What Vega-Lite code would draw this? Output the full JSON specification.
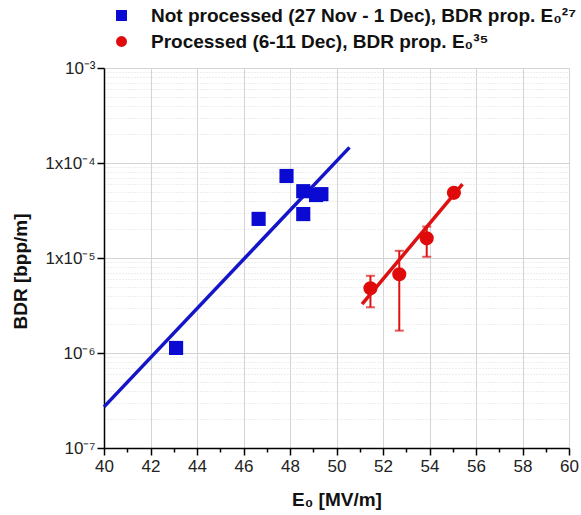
{
  "$schema": "https://vega.github.io/schema/vega-lite/v6.json",
  "width": 465,
  "height": 380,
  "autosize": {"type": "none"},
  "padding": {"left": 104, "top": 68, "right": 12, "bottom": 67},
  "background": "white",
  "config": {
    "view": {"stroke": null},
    "font": "Liberation Sans",
    "legend": {
      "orient": "none",
      "legendX": 8,
      "legendY": -62,
      "labelFontSize": 19,
      "labelFontWeight": "bold",
      "labelColor": "#111",
      "symbolSize": 120,
      "rowPadding": 6,
      "labelOffset": 20,
      "labelLimit": 600
    }
  },
  "datasets": {
    "pts": [
      {"series": "Not processed", "E": 43.1, "BDR": 1.13e-6},
      {"series": "Not processed", "E": 46.65, "BDR": 2.58e-5},
      {"series": "Not processed", "E": 47.85, "BDR": 7.3e-5},
      {"series": "Not processed", "E": 48.57, "BDR": 5.05e-5},
      {"series": "Not processed", "E": 48.57, "BDR": 2.9e-5},
      {"series": "Not processed", "E": 49.12, "BDR": 4.6e-5},
      {"series": "Not processed", "E": 49.35, "BDR": 4.7e-5},
      {"series": "Processed", "E": 51.46, "BDR": 4.8e-6, "lo": 3.03e-6, "hi": 6.5e-6},
      {"series": "Processed", "E": 52.7, "BDR": 6.75e-6, "lo": 1.72e-6, "hi": 1.19e-5},
      {"series": "Processed", "E": 53.88, "BDR": 1.61e-5, "lo": 1.03e-5, "hi": 2.14e-5},
      {"series": "Processed", "E": 55.05, "BDR": 4.85e-5, "lo": 4.4e-5, "hi": 5.3e-5}
    ],
    "fit": [
      {"series": "Not processed", "E": 40.0, "BDR": 2.71e-7},
      {"series": "Not processed", "E": 50.56, "BDR": 1.46e-4},
      {"series": "Processed", "E": 51.1, "BDR": 3.26e-6},
      {"series": "Processed", "E": 55.42, "BDR": 6.0e-5}
    ]
  },
  "encoding": {
    "x": {
      "field": "E",
      "type": "quantitative",
      "scale": {"domain": [40, 60], "nice": false, "zero": false},
      "axis": {
        "title": "E₀ [MV/m]",
        "titleFontSize": 19,
        "titleFontWeight": "bold",
        "titleColor": "#111",
        "titlePadding": 16,
        "values": [40,41,42,43,44,45,46,47,48,49,50,51,52,53,54,55,56,57,58,59,60],
        "labelExpr": "datum.value % 2 == 0 ? datum.label : ''",
        "labelFontSize": 17,
        "labelColor": "#222",
        "labelPadding": 3,
        "labelFlush": false,
        "labelOverlap": false,
        "grid": true,
        "gridColor": "#d4d4d4",
        "gridWidth": 1,
        "gridOpacity": {"condition": {"test": "datum.value % 2 == 0 && datum.value > 40", "value": 1}, "value": 0},
        "tickSize": {"condition": {"test": "datum.value % 2 == 0", "value": 7}, "value": 4},
        "tickColor": "black",
        "tickWidth": 1.5,
        "domainColor": "black",
        "domainWidth": 1.5
      }
    },
    "y": {
      "field": "BDR",
      "type": "quantitative",
      "scale": {"type": "log", "domain": [1e-7, 1e-3], "nice": false},
      "axis": {
        "title": "BDR [bpp/m]",
        "titleFontSize": 19,
        "titleFontWeight": "bold",
        "titleColor": "#111",
        "titlePadding": 14,
        "titleY": 203,
        "values": [1e-7,2e-7,3e-7,4e-7,5e-7,6e-7,7e-7,8e-7,9e-7,1e-6,2e-6,3e-6,4e-6,5e-6,6e-6,7e-6,8e-6,9e-6,1e-5,2e-5,3e-5,4e-5,5e-5,6e-5,7e-5,8e-5,9e-5,1e-4,2e-4,3e-4,4e-4,5e-4,6e-4,7e-4,8e-4,9e-4,1e-3],
        "labelExpr": "datum.value == 1e-3 ? '10⁻³' : datum.value == 1e-4 ? '1x10⁻⁴' : datum.value == 1e-5 ? '1x10⁻⁵' : datum.value == 1e-6 ? '10⁻⁶' : datum.value == 1e-7 ? '10⁻⁷' : ''",
        "labelFontSize": 17,
        "labelColor": "#222",
        "labelOverlap": false,
        "labelFlush": false,
        "grid": true,
        "gridColor": {"condition": {"test": "indexof([1e-7,1e-6,1e-5,1e-4,1e-3], datum.value) >= 0", "value": "#d4d4d4"}, "value": "#dcdcdc"},
        "gridDash": {"condition": {"test": "indexof([1e-7,1e-6,1e-5,1e-4,1e-3], datum.value) >= 0", "value": []}, "value": [1, 2]},
        "gridOpacity": {"condition": {"test": "datum.value == 1e-7", "value": 0}, "value": 1},
        "tickSize": {"condition": {"test": "indexof([1e-7,1e-6,1e-5,1e-4,1e-3], datum.value) >= 0", "value": 7}, "value": 0},
        "tickColor": "black",
        "tickWidth": 1.5,
        "domainColor": "black",
        "domainWidth": 1.5
      }
    }
  },
  "layer": [
    {
      "data": {"name": "fit"},
      "transform": [{"filter": "datum.series == 'Not processed'"}],
      "mark": {"type": "line", "color": "#1414c8", "strokeWidth": 3.5, "clip": false}
    },
    {
      "data": {"name": "fit"},
      "transform": [{"filter": "datum.series == 'Processed'"}],
      "mark": {"type": "line", "color": "#dd1111", "strokeWidth": 3.5, "clip": false}
    },
    {
      "data": {"name": "pts"},
      "transform": [{"filter": "datum.series == 'Processed'"}],
      "mark": {"type": "errorbar", "color": "#dd1111", "thickness": 2, "ticks": {"size": 9, "color": "#dd1111"}},
      "encoding": {
        "y": {"field": "lo", "type": "quantitative", "title": "BDR [bpp/m]"},
        "y2": {"field": "hi"}
      }
    },
    {
      "data": {"name": "pts"},
      "mark": {"type": "point", "filled": true, "opacity": 1},
      "encoding": {
        "shape": {
          "field": "series",
          "type": "nominal",
          "scale": {"domain": ["Not processed", "Processed"], "range": ["square", "circle"]},
          "legend": {"title": null, "labelExpr": "datum.value == 'Not processed' ? 'Not processed (27 Nov - 1 Dec), BDR prop. E₀²⁷' : 'Processed (6-11 Dec), BDR prop. E₀³⁵'"}
        },
        "color": {
          "field": "series",
          "type": "nominal",
          "scale": {"domain": ["Not processed", "Processed"], "range": ["#0a0ad2", "#e00a0a"]},
          "legend": {"title": null, "labelExpr": "datum.value == 'Not processed' ? 'Not processed (27 Nov - 1 Dec), BDR prop. E₀²⁷' : 'Processed (6-11 Dec), BDR prop. E₀³⁵'"}
        },
        "size": {"value": 200}
      }
    }
  ]
}
